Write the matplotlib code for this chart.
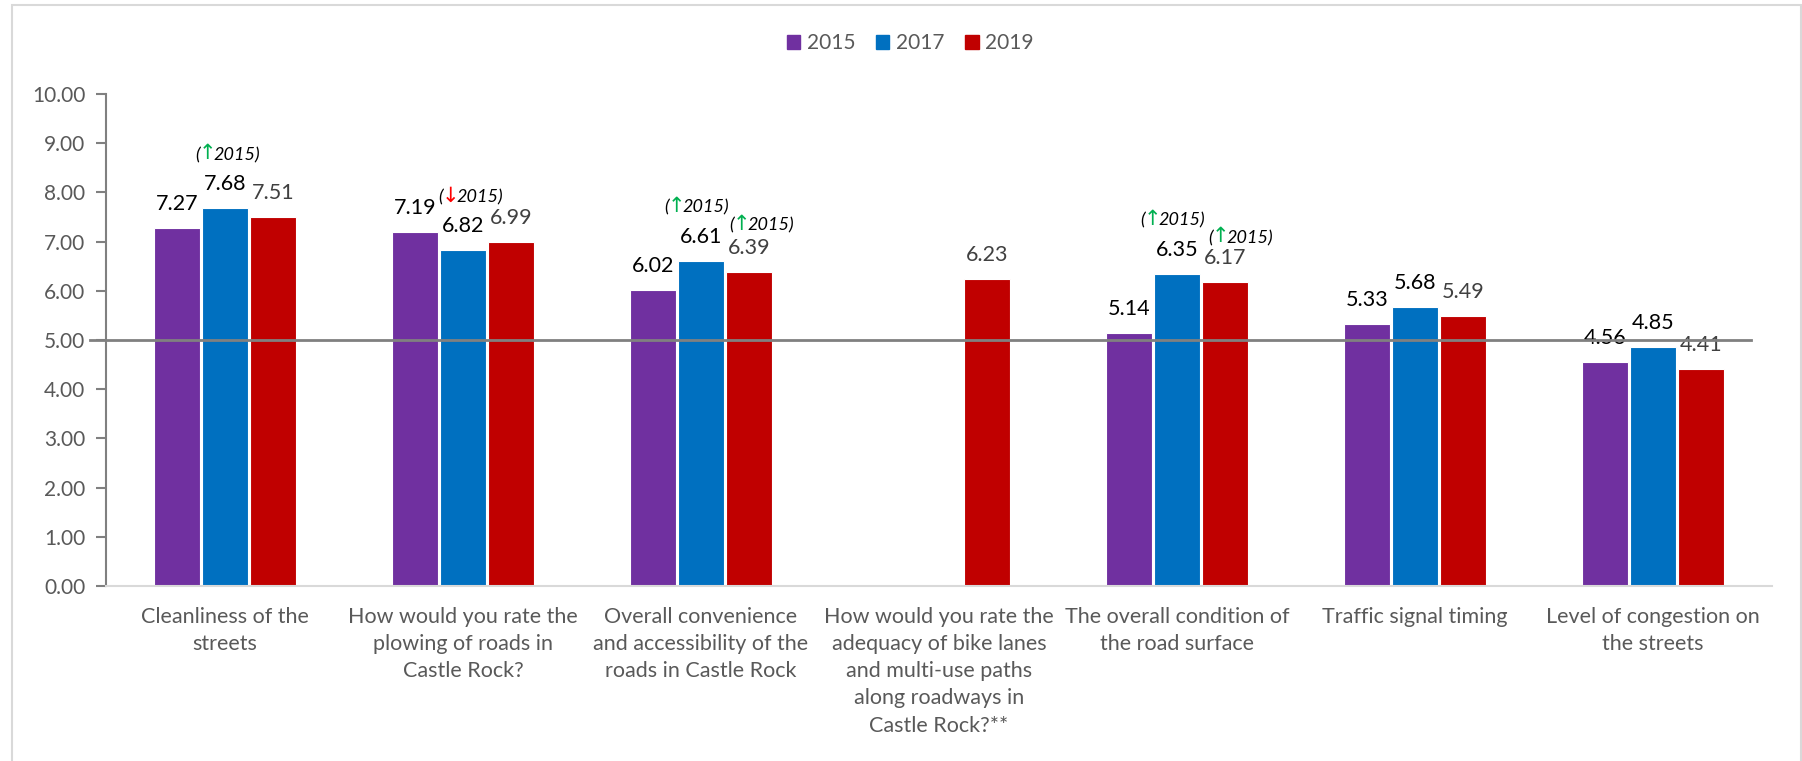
import numpy as np
import matplotlib
matplotlib.use("Agg")
import matplotlib.pyplot as plt
from matplotlib.patches import Rectangle, Patch

plt.rcParams['font.family'] = ['Lato', 'DejaVu Sans']

categories = [
    "Cleanliness of the\nstreets",
    "How would you rate the\nplowing of roads in\nCastle Rock?",
    "Overall convenience\nand accessibility of the\nroads in Castle Rock",
    "How would you rate the\nadequacy of bike lanes\nand multi-use paths\nalong roadways in\nCastle Rock?**",
    "The overall condition of\nthe road surface",
    "Traffic signal timing",
    "Level of congestion on\nthe streets",
]
years = ["2015", "2017", "2019"]
v2015 = [7.27, 7.19, 6.02, np.nan, 5.14, 5.33, 4.56]
v2017 = [7.68, 6.82, 6.61, np.nan, 6.35, 5.68, 4.85]
v2019 = [7.51, 6.99, 6.39, 6.23, 6.17, 5.49, 4.41]
series = [v2015, v2017, v2019]
colors = ["#7030A0", "#0070C0", "#C00000"]
label_colors = ["#000000", "#000000", "#404040"]

# (category index, series index, direction) of "(arrow 2015)" notes
notes_cat = [0, 1, 2, 2, 4, 4]
notes_ser = [1, 1, 1, 2, 1, 2]
notes_dir = ["up", "down", "up", "up", "up", "up"]
# pixel nudges for the notes
note_dx = [3, 8, -4, 13, -4, 16]
note_dy = [53, 53, 53, 46, 53, 44]

fig = plt.figure(figsize=(18.02, 7.61), dpi=100)
ax = fig.add_axes([106 / 1802, 1 - 586 / 761, 1666 / 1802, 492 / 761])

x = np.arange(len(categories))
offs = [-0.2017, 0.0, 0.2017]
for i, vals in enumerate(series):
    ax.bar(x + offs[i], vals, width=0.193, color=colors[i],
           edgecolor="white", linewidth=0.8)
    for j, v in enumerate(vals):
        if np.isnan(v):
            continue
        ax.annotate(f"{v:.2f}", xy=(x[j] + offs[i], v), xytext=(0, 24),
                    textcoords="offset pixels", ha="center", va="center",
                    fontsize=15.5, color=label_colors[i])

ax.set_xlim(-0.5, 6.5)
ax.set_ylim(0, 10)
ax.set_yticks(np.arange(0, 10.01, 1))
ax.set_yticklabels([f"{t:.2f}" for t in np.arange(0, 10.01, 1)])
ax.set_xticks(x)
ax.set_xticklabels(categories, linespacing=1.45)
ax.tick_params(axis="x", length=0, pad=15, labelsize=15.5, labelcolor="#595959")
ax.tick_params(axis="y", length=7, width=1.5, color="#808080", pad=8,
               labelsize=15, labelcolor="#595959")
for s in ["top", "right"]:
    ax.spines[s].set_visible(False)
ax.spines["left"].set_color("#808080")
ax.spines["left"].set_linewidth(1.5)
ax.spines["bottom"].set_color("#D9D9D9")
ax.spines["bottom"].set_linewidth(1.5)

# reference line at 5
ax.plot([-0.567, 6.41], [5, 5], color="#808080", lw=2, clip_on=False, zorder=3)

# notes: "(" + coloured arrow + "2015)"
notes = []
for k, (c, s, d) in enumerate(zip(notes_cat, notes_ser, notes_dir)):
    v = series[s][c]
    dx, dy = note_dx[k], note_dy[k]
    t1 = ax.annotate("(", xy=(x[c] + offs[s], v), xytext=(dx, dy),
                     textcoords="offset pixels", ha="left", va="center",
                     fontsize=13, style="italic", color="black")
    arrow = "\u2191" if d == "up" else "\u2193"
    acol = "#00B050" if d == "up" else "#FF0000"
    t2 = ax.annotate(arrow, xy=(1, 0), xycoords=t1, xytext=(-2, 0),
                     textcoords="offset pixels", ha="left", va="bottom",
                     fontsize=15, color=acol, family="DejaVu Sans")
    t3 = ax.annotate("2015)", xy=(1, 0), xycoords=t2, xytext=(-2, 0),
                     textcoords="offset pixels", ha="left", va="bottom",
                     fontsize=13, style="italic", color="black")
    notes.append((t1, t3, dx, dy))

fig.canvas.draw()
r = fig.canvas.get_renderer()
for t1, t3, dx, dy in notes:
    left = t1.get_window_extent(r).x0
    right = t3.get_window_extent(r).x1
    t1.xyann = (dx - (right - left) / 2, dy)

handles = [Patch(color=c) for c in colors]
fig.legend(handles, years, loc="center", bbox_to_anchor=(910 / 1802, 1 - 43 / 761),
           ncol=3, frameon=False, fontsize=15, labelcolor="#595959",
           handlelength=0.65, handleheight=0.65, handletextpad=0.3,
           columnspacing=1.0)

# outer chart frame
fig.patches.append(Rectangle((12 / 1802, -0.1), 1789 / 1802, 0.1 + 1 - 5 / 761,
                             transform=fig.transFigure, fill=False,
                             edgecolor="#D9D9D9", lw=1.5))

fig.savefig("out.png", dpi=100)
